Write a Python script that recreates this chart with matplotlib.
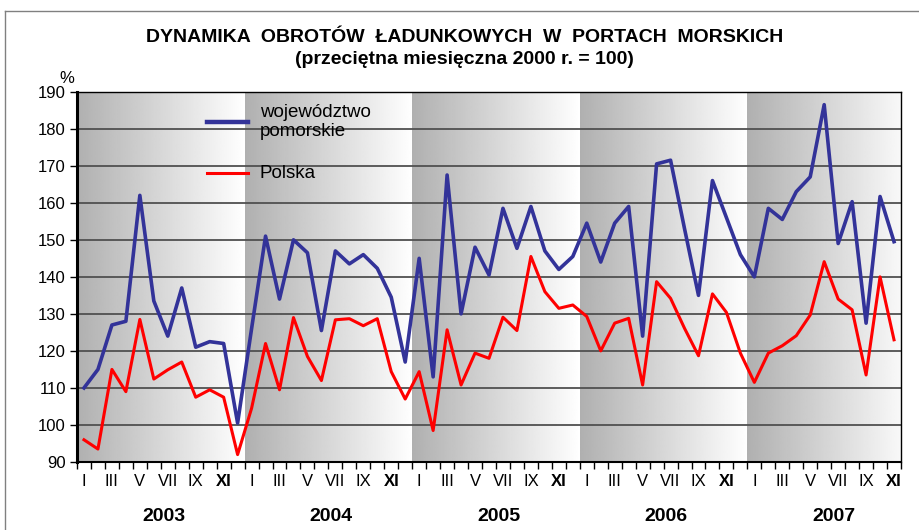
import matplotlib.pyplot as plt
import numpy as np
from matplotlib.lines import Line2D

plt.rcParams['font.family'] = ['Liberation Sans', 'DejaVu Sans']

# dane (przecietna miesieczna 2000 r. = 100)
years = ['2003', '2004', '2005', '2006', '2007']
months = ['I', 'II', 'III', 'IV', 'V', 'VI', 'VII', 'VIII', 'IX', 'X', 'XI', 'XII']

pomorskie = [
    110, 115, 127, 128, 162, 133.5, 124, 137, 121, 122.5, 122, 100.5,   # 2003
    126, 151, 134, 150, 146.5, 125.5, 147, 143.5, 146, 142.3, 134.5, 117,  # 2004
    145, 113, 167.5, 130, 148, 140.5, 158.5, 147.7, 159, 147, 142, 145.5,  # 2005
    154.5, 144, 154.5, 159, 124, 170.5, 171.5, 153, 135, 166, 156, 146,  # 2006
    140, 158.5, 155.5, 163, 167, 186.5, 149, 160.3, 127.5, 161.7, 149.5,  # 2007
]
polska = [
    96, 93.5, 115, 109, 128.5, 112.4, 114.9, 117, 107.5, 109.5, 107.5, 92,  # 2003
    104.5, 122, 109.5, 129, 118.5, 112, 128.4, 128.7, 126.8, 128.7, 114.4, 107,  # 2004
    114.4, 98.5, 125.7, 110.8, 119.4, 118, 129.1, 125.5, 145.5, 136, 131.5, 132.4,  # 2005
    129.3, 120, 127.5, 128.8, 110.8, 138.7, 134.2, 126.1, 118.7, 135.4, 130.4, 119.4,  # 2006
    111.5, 119.4, 121.4, 124.1, 129.7, 144.1, 134, 131.1, 113.5, 140, 123,  # 2007
]

n = len(pomorskie)
x = np.arange(n) + 0.5

fig = plt.figure(figsize=(9.2, 5.3), dpi=100)
ax = fig.add_axes([77 / 920, 1 - 462 / 530, 824 / 920, 370.3 / 530])

# tlo - gradient dla kazdego roku
grad = np.linspace(0.69, 1.0, 256).reshape(1, -1)
for k in range(len(years)):
    ax.imshow(grad, cmap='gray', vmin=0, vmax=1, aspect='auto',
              extent=[12 * k, 12 * k + 12, 90, 190], zorder=0,
              interpolation='bilinear')

# linie siatki
for v in range(100, 190, 10):
    ax.axhline(v, color='#505050', lw=1.3, zorder=1)

ax.plot(x, pomorskie, color='#333399', lw=2.6, zorder=3)
ax.plot(x, polska, color='#ff0000', lw=2.2, zorder=4)

ax.set_xlim(0, n)
ax.set_ylim(90, 190)

# os Y
ax.set_yticks(range(90, 191, 10))
ax.tick_params(axis='y', direction='out', length=5, width=1, labelsize=12, pad=3)
ax.text(-0.012, 1.035, '%', transform=ax.transAxes, fontsize=12, ha='center', va='center')

# os X - kreski miedzy miesiacami, etykiety co drugi miesiac
ax.set_xticks(np.arange(0, n + 1))
ax.set_xticklabels([])
ax.tick_params(axis='x', which='major', direction='out', length=5, width=1)
ax.set_xticks(x[::2], minor=True)
ax.set_xticklabels([months[i % 12] for i in range(0, n, 2)], minor=True)
ax.tick_params(axis='x', which='minor', length=0, labelsize=12, pad=9)
for lab in ax.get_xticklabels(minor=True):
    if lab.get_text() == 'XI':
        lab.set_fontweight('bold')

# lata pod osia
for k, yr in enumerate(years):
    ax.text(12 * k + 6.2, -0.1485, yr, transform=ax.get_xaxis_transform(),
            fontsize=14, fontweight='bold', ha='center', va='center', clip_on=False)

for s in ['top', 'right']:
    ax.spines[s].set_linewidth(1)
ax.spines['left'].set_linewidth(2.2)
ax.spines['bottom'].set_linewidth(1.5)

# legenda
ax.add_line(Line2D([0.158, 0.2075], [0.918, 0.918], transform=ax.transAxes,
                   color='#333399', lw=3.2, zorder=5))
ax.add_line(Line2D([0.158, 0.2075], [0.780, 0.780], transform=ax.transAxes,
                   color='#ff0000', lw=2.2, zorder=5))
ax.text(0.222, 0.919, 'województwo\npomorskie', transform=ax.transAxes,
        fontsize=13.5, va='center', ha='left', linespacing=1.15, zorder=5)
ax.text(0.222, 0.780, 'Polska', transform=ax.transAxes,
        fontsize=13.5, va='center', ha='left', zorder=5)

# tytul
fig.text(465 / 920, 1 - 38 / 530, 'DYNAMIKA  OBROTÓW  ŁADUNKOWYCH  W  PORTACH  MORSKICH',
         fontsize=14, fontweight='bold', ha='center', va='center')
fig.text(464 / 920, 1 - 59 / 530, '(przeciętna miesięczna 2000 r. = 100)',
         fontsize=14, fontweight='bold', ha='center', va='center')

# ramka wykresu
fig.add_artist(Line2D([5 / 920, 5 / 920], [0, 1 - 11 / 530], transform=fig.transFigure,
                      color='#808080', lw=1))
fig.add_artist(Line2D([5 / 920, 1], [1 - 11 / 530, 1 - 11 / 530], transform=fig.transFigure,
                      color='#808080', lw=1))

fig.savefig('out.png', dpi=100)
